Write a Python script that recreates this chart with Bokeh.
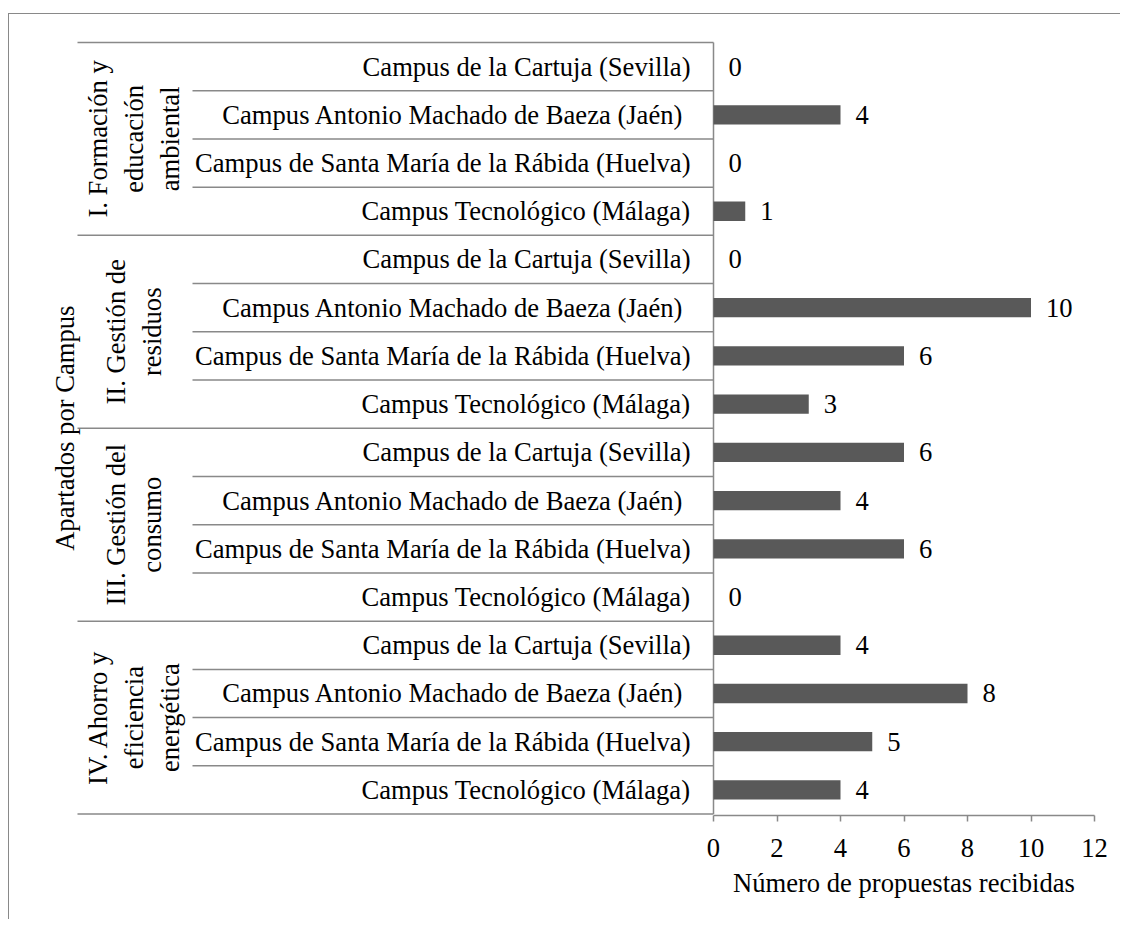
from math import pi
from bokeh.plotting import figure
from bokeh.models import Range1d, FixedTicker, Title
from bokeh.core.properties import value
from bokeh.embed import file_html
from bokeh.resources import INLINE

# ---------------- data ----------------
groups = [
    "I. Formación y\neducación\nambiental",
    "II. Gestión de\nresiduos",
    "III. Gestión del\nconsumo",
    "IV. Ahorro y\neficiencia\nenergética",
]
campuses = [
    "Campus de la Cartuja (Sevilla)",
    "Campus Antonio Machado de Baeza (Jaén) ",
    "Campus de Santa María de la Rábida (Huelva)",
    "Campus Tecnológico (Málaga)",
]
formacion = [0, 4, 0, 1]
residuos = [0, 10, 6, 3]
consumo = [6, 4, 6, 0]
ahorro = [4, 8, 5, 4]
x_ticks = [0, 2, 4, 6, 8, 10, 12]
x_title = "Número de  propuestas recibidas"
y_title = "Apartados por Campus"

series = [formacion, residuos, consumo, ahorro]

# ---------------- layout (page pixels) ----------------
FONT = "Liberation Serif"
FS = "26.6px"
LINE = "#898989"
BAR = "#595959"
AX0 = 713.0          # pixel of x = 0
PXU = 31.75          # pixels per x unit
TOP, BOT = 42.0, 815.0
FR_L, FR_R, FR_T = 9.0, 1121.0, 14.0
GROUP_LEFT, ROW_LEFT = 77.0, 192.0
GROUP_LABEL_X, YTITLE_X = 133.0, 64.0
XTITLE_OFFSET = 40.0

n_rows = len(groups) * len(campuses)
ROWPX = (BOT - TOP) / n_rows


def xd(px):
    return (px - AX0) / PXU


def yd(py):
    return (BOT - py) / ROWPX


# ---------------- derived columns ----------------
labels, ys, vals = [], [], []
for g, grp in enumerate(groups):
    for c, camp in enumerate(campuses):
        k = g * len(campuses) + c
        labels.append(camp)
        ys.append(n_rows - k - 0.5)
        vals.append(series[g][c])

ng = len(campuses)
group_bounds = [n_rows - g * ng for g in range(len(groups) + 1)]
row_bounds = [n_rows - k for k in range(1, n_rows) if k % ng != 0]
group_centers = [n_rows - g * ng - ng / 2 for g in range(len(groups))]

p = figure(
    width=1112, height=906,
    x_range=Range1d(xd(FR_L), xd(FR_R)),
    y_range=Range1d(-0.03, yd(FR_T)),
    y_axis_location=None,
    min_border_left=0, min_border_right=0, min_border_top=0, min_border_bottom=105,
    output_backend="svg", toolbar_location=None,
)
p.outline_line_color = None
p.xgrid.visible = False
p.ygrid.visible = False
p.background_fill_color = "white"
p.border_fill_color = "white"
p.styles = {
    "border-top": f"1px solid {LINE}",
    "border-left": f"1px solid {LINE}",
    "margin-top": "13px",
    "margin-left": "8px",
}

# table lines
p.segment(x0=[xd(GROUP_LEFT)] * len(group_bounds), x1=[0] * len(group_bounds),
          y0=group_bounds, y1=group_bounds, line_color=LINE, line_width=1.5)
p.segment(x0=[xd(ROW_LEFT)] * len(row_bounds), x1=[0] * len(row_bounds),
          y0=row_bounds, y1=row_bounds, line_color=LINE, line_width=1.5)
p.segment(x0=[0], x1=[0], y0=[0], y1=[n_rows], line_color=LINE, line_width=1.5)

# bars
p.hbar(y=ys, left=0, right=vals, height=0.4, fill_color=BAR, line_color=None)

# value labels
p.text(x=vals, y=ys, text=[str(v) for v in vals], x_offset=15,
       text_align="left", text_baseline="middle",
       text_font=value(FONT), text_font_size=FS, text_color="black")

# category labels
p.text(x=[0] * n_rows, y=ys, text=labels, x_offset=-23,
       text_align="right", text_baseline="middle",
       text_font=value(FONT), text_font_size=FS, text_color="black")

# group labels
p.text(x=[xd(GROUP_LABEL_X)] * len(groups), y=group_centers, text=groups,
       angle=pi / 2, text_align="center", text_baseline="middle",
       text_line_height=1.2,
       text_font=value(FONT), text_font_size=FS, text_color="black")

# y title
p.text(x=[xd(YTITLE_X)], y=[n_rows / 2], text=[y_title], angle=pi / 2,
       text_align="center", text_baseline="middle",
       text_font=value(FONT), text_font_size=FS, text_color="black")

# x axis
ax = p.xaxis[0]
ax.ticker = FixedTicker(ticks=x_ticks)
ax.bounds = (x_ticks[0], x_ticks[-1])
ax.axis_line_color = LINE
ax.axis_line_width = 1.5
ax.major_tick_line_color = LINE
ax.major_tick_line_width = 1.5
ax.major_tick_out = 6
ax.major_tick_in = 0
ax.minor_tick_line_color = None
ax.major_label_text_font = FONT
ax.major_label_text_font_size = FS
ax.major_label_text_color = "black"
ax.major_label_standoff = 17

# x axis title, centred under the 0..12 span of the axis
xt = Title(text=x_title, align="right", offset=XTITLE_OFFSET,
           text_font=FONT, text_font_size=FS, text_font_style="normal",
           text_color="black", standoff=12)
p.add_layout(xt, "below")

open("out.html", "w").write(file_html(p, INLINE))
